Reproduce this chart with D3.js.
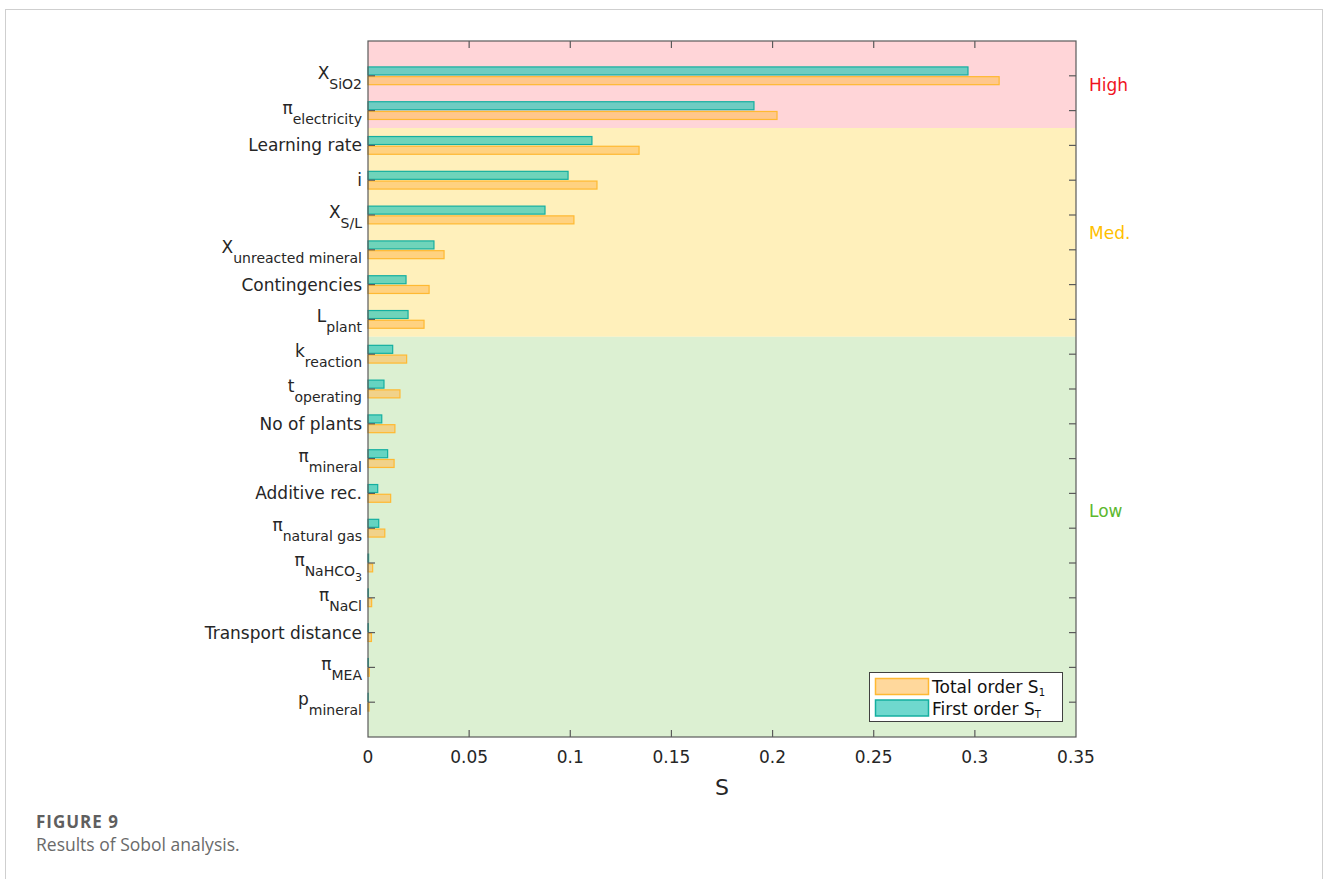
<!DOCTYPE html>
<html>
<head>
<meta charset="utf-8">
<script src="https://cdn.jsdelivr.net/npm/d3@7"></script>
<style>
  html, body { margin: 0; padding: 0; background: #fff; }
  svg { display: block; }
</style>
</head>
<body>
<svg id="chart" width="1328" height="879"></svg>
<script>
// Parameter labels: [main text, subscript, sub-subscript]
const categories = [
  ["X", "SiO2", ""],
  ["π", "electricity", ""],
  ["Learning rate", "", ""],
  ["i", "", ""],
  ["X", "S/L", ""],
  ["X", "unreacted mineral", ""],
  ["Contingencies", "", ""],
  ["L", "plant", ""],
  ["k", "reaction", ""],
  ["t", "operating", ""],
  ["No of plants", "", ""],
  ["π", "mineral", ""],
  ["Additive rec.", "", ""],
  ["π", "natural gas", ""],
  ["π", "NaHCO", "3"],
  ["π", "NaCl", ""],
  ["Transport distance", "", ""],
  ["π", "MEA", ""],
  ["p", "mineral", ""]
];

// Sobol indices per parameter
const firstOrder = [0.2966, 0.1908, 0.1107, 0.0989, 0.0875, 0.0326, 0.0188, 0.0198, 0.0122, 0.0079,
                    0.0068, 0.0097, 0.0048, 0.0053, 0.0003, 0.0002, 0.0002, 0.0002, 0.0001];
const totalOrder = [0.3120, 0.2022, 0.1340, 0.1132, 0.1018, 0.0376, 0.0302, 0.0277, 0.0191, 0.0158,
                    0.0133, 0.0129, 0.0112, 0.0083, 0.0023, 0.0018, 0.0017, 0.0006, 0.0005];

const xTicks = [0, 0.05, 0.1, 0.15, 0.2, 0.25, 0.3, 0.35];
const xTickLabels = ["0", "0.05", "0.1", "0.15", "0.2", "0.25", "0.3", "0.35"];

// Sensitivity bands (in row units, rows are 1..19)
const bandNames = ["High", "Med.", "Low"];
const bandStart = [0, 2.5, 8.5];
const bandEnd = [2.5, 8.5, 20];

const svg = d3.select("#chart");

// card frame
svg.append("rect")
  .attr("x", 5.5).attr("y", 9.5).attr("width", 1317).attr("height", 900)
  .attr("fill", "#fff").attr("stroke", "#cfcfcf").attr("stroke-width", 1);

const plot = { left: 368, right: 1076, top: 41, bottom: 737 };

const x = d3.scaleLinear().domain([0, 0.35]).range([plot.left, plot.right]);
const y = d3.scaleLinear().domain([0, 20]).range([plot.top, plot.bottom]);

const bandFill = ["#ffd5d8", "#fff0bb", "#dcf0d2"];
const bandText = ["#f0141e", "#ffc000", "#5cb82e"];
const bandLabelPos = [1.25, 5.5, 13.5];

svg.append("g").selectAll("rect")
  .data(bandNames)
  .join("rect")
  .attr("x", x(0))
  .attr("width", x(0.35) - x(0))
  .attr("y", (d, i) => y(bandStart[i]))
  .attr("height", (d, i) => y(bandEnd[i]) - y(bandStart[i]))
  .attr("fill", (d, i) => bandFill[i]);

svg.append("g").selectAll("text")
  .data(bandNames)
  .join("text")
  .attr("x", 1089)
  .attr("y", (d, i) => y(bandLabelPos[i]))
  .attr("dy", "0.36em")
  .attr("font-family", "'DejaVu Sans', Verdana, sans-serif")
  .attr("font-size", 17)
  .attr("fill", (d, i) => bandText[i])
  .text(d => d);

// bars
const barH = 0.23;
const off = 0.14;
const tealFill = "rgba(50,200,185,0.7)";
const tealStroke = "rgb(20,175,160)";
const orangeFill = "rgba(255,190,90,0.6)";
const orangeStroke = "rgb(255,185,50)";

const bars = svg.append("g");
bars.selectAll("rect.first")
  .data(firstOrder)
  .join("rect")
  .attr("class", "first")
  .attr("x", x(0))
  .attr("y", (d, i) => y(i + 1 - off - barH / 2))
  .attr("width", d => x(d) - x(0))
  .attr("height", y(barH) - y(0))
  .attr("fill", tealFill)
  .attr("stroke", tealStroke)
  .attr("stroke-width", 1.2);

bars.selectAll("rect.total")
  .data(totalOrder)
  .join("rect")
  .attr("class", "total")
  .attr("x", x(0))
  .attr("y", (d, i) => y(i + 1 + off - barH / 2))
  .attr("width", d => x(d) - x(0))
  .attr("height", y(barH) - y(0))
  .attr("fill", orangeFill)
  .attr("stroke", orangeStroke)
  .attr("stroke-width", 1.2);

// axes box with inward ticks
const axisColor = "#5a5a5a";
const tickLen = 7;
const rows = d3.range(1, categories.length + 1);

const axG = svg.append("g").attr("stroke", axisColor).attr("stroke-width", 1.2);
axG.append("rect")
  .attr("x", plot.left).attr("y", plot.top)
  .attr("width", plot.right - plot.left).attr("height", plot.bottom - plot.top)
  .attr("fill", "none");

axG.selectAll("line.xb").data(xTicks.slice(1, -1)).join("line")
  .attr("x1", d => x(d)).attr("x2", d => x(d))
  .attr("y1", plot.bottom).attr("y2", plot.bottom - tickLen);
axG.selectAll("line.xt").data(xTicks.slice(1, -1)).join("line")
  .attr("x1", d => x(d)).attr("x2", d => x(d))
  .attr("y1", plot.top).attr("y2", plot.top + tickLen);
axG.selectAll("line.yl").data(rows).join("line")
  .attr("x1", plot.left).attr("x2", plot.left + tickLen)
  .attr("y1", d => y(d)).attr("y2", d => y(d));
axG.selectAll("line.yr").data(rows).join("line")
  .attr("x1", plot.right).attr("x2", plot.right - tickLen)
  .attr("y1", d => y(d)).attr("y2", d => y(d));

// x tick labels
const labelFont = "'DejaVu Sans', Verdana, sans-serif";
const textColor = "#262626";
svg.append("g").selectAll("text")
  .data(xTicks)
  .join("text")
  .attr("x", d => x(d))
  .attr("y", 763)
  .attr("text-anchor", "middle")
  .attr("font-family", labelFont)
  .attr("font-size", 17)
  .attr("fill", textColor)
  .text((d, i) => xTickLabels[i]);

svg.append("text")
  .attr("x", (plot.left + plot.right) / 2)
  .attr("y", 795)
  .attr("text-anchor", "middle")
  .attr("font-family", labelFont)
  .attr("font-size", 22)
  .attr("fill", textColor)
  .text("S");

// y tick labels with subscripts
const yl = svg.append("g");
categories.forEach((c, i) => {
  const hasSub = c[1] !== "";
  const t = yl.append("text")
    .attr("x", 362)
    .attr("y", y(i + 1) + (hasSub ? 3 : 6))
    .attr("text-anchor", "end")
    .attr("font-family", labelFont)
    .attr("font-size", 17)
    .attr("fill", textColor);
  t.append("tspan").text(c[0]);
  if (hasSub) {
    t.append("tspan").attr("font-size", 14).attr("dy", 10).text(c[1]);
  }
  if (c[2] !== "") {
    t.append("tspan").attr("font-size", 11).attr("dy", 5).text(c[2]);
  }
});

// legend
const lg = svg.append("g");
lg.append("rect")
  .attr("x", 869.5).attr("y", 672.5).attr("width", 193).attr("height", 49)
  .attr("fill", "#fff").attr("stroke", "#404040").attr("stroke-width", 1);
const legendItems = [
  { fill: orangeFill, stroke: orangeStroke, main: "Total order S", sub: "1" },
  { fill: tealFill, stroke: tealStroke, main: "First order S", sub: "T" }
];
legendItems.forEach((d, i) => {
  const yy = 678 + i * 21.5;
  lg.append("rect")
    .attr("x", 875.5).attr("y", yy + 0.5).attr("width", 53).attr("height", 16)
    .attr("fill", d.fill).attr("stroke", d.stroke).attr("stroke-width", 1.5);
  const t = lg.append("text")
    .attr("x", 932).attr("y", yy + 15)
    .attr("font-family", labelFont)
    .attr("font-size", 17)
    .attr("fill", "#111");
  t.append("tspan").text(d.main);
  t.append("tspan").attr("font-size", 10).attr("dy", 3).text(d.sub);
});

// caption
svg.append("text")
  .attr("x", 36).attr("y", 828)
  .attr("font-family", "'Open Sans', sans-serif")
  .attr("font-weight", "bold")
  .attr("font-size", 17)
  .attr("letter-spacing", 1)
  .attr("fill", "#5f5f5f")
  .text("FIGURE 9");
svg.append("text")
  .attr("x", 36).attr("y", 851)
  .attr("font-family", "'Open Sans', sans-serif")
  .attr("font-size", 17.5)
  .attr("fill", "#6a6a6a")
  .text("Results of Sobol analysis.");
</script>
</body>
</html>
